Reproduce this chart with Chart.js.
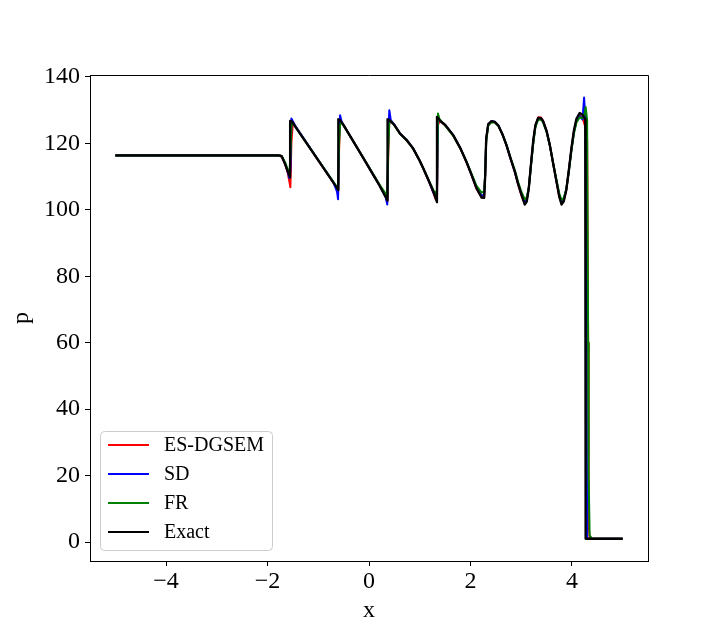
<!DOCTYPE html>
<html>
<head>
<meta charset="utf-8">
<script src="https://cdn.jsdelivr.net/npm/chart.js@4/dist/chart.umd.min.js"></script>
<style>
  html, body { margin: 0; padding: 0; background: #fff; }
  #wrap { width: 720px; height: 630px; }
</style>
</head>
<body>
<div id="wrap"><canvas id="myChart1" width="720" height="630"></canvas></div>
<script>
// series labels
var seriesNames = ['ES-DGSEM', 'SD', 'FR', 'Exact'];

// x grid of the numerical solutions
var xNum = [-5, -1.8, -1.72, -1.65, -1.6, -1.57, -1.55, -1.53, -1.5, -1.45,
    -1.0, -0.7, -0.63, -0.61, -0.59, -0.57, -0.54, -0.5, -0.1, 0.2,
    0.33, 0.36, 0.38, 0.40, 0.43, 0.5, 0.61, 0.75, 0.87, 1.0,
    1.07, 1.2, 1.27, 1.32, 1.34, 1.36, 1.39, 1.5, 1.66, 1.8,
    1.92, 2.02, 2.12, 2.22, 2.27, 2.29, 2.31, 2.35, 2.415, 2.48,
    2.55, 2.63, 2.71, 2.79, 2.875, 2.94, 3.007, 3.07, 3.11, 3.15,
    3.20, 3.24, 3.28, 3.335, 3.39, 3.43, 3.5, 3.565, 3.63, 3.70,
    3.75, 3.795, 3.84, 3.89, 3.94, 3.99, 4.04, 4.09, 4.155, 4.21,
    4.24, 4.27, 4.30, 4.32, 4.33, 4.35, 4.4, 5.0];

var pES = [116.4, 116.4, 116.0, 113.6, 111.0, 108.5, 106.8, 120.0, 126.5, 125.1,
    114.9, 108.1, 106.3, 104.5, 118.0, 126.5, 126.4, 125.4, 115.3, 107.6,
    104.0, 102.2, 117.0, 126.8, 126.9, 125.5, 122.9, 120.8, 118.4, 114.7,
    112.4, 107.8, 105.0, 103.0, 102.8, 125.5, 126.8, 125.5, 122.4, 118.5,
    114.4, 110.5, 106.3, 103.8, 104.0, 110.5, 121.0, 125.6, 126.6, 126.4,
    125.3, 122.7, 119.4, 115.4, 111.4, 107.6, 104.2, 102.0, 102.9, 106.6,
    114.7, 120.8, 125.3, 127.9, 127.8, 126.9, 123.8, 119.4, 113.9, 108.1,
    104.1, 102.0, 102.9, 106.1, 111.9, 118.2, 123.6, 126.9, 128.5, 127.5,
    126.2, 124.5, 121.0, 60.0, 5.0, 1.2, 1.0, 1.0];

var pSD = [116.4, 116.4, 116.1, 113.8, 111.3, 109.6, 112.0, 127.5, 126.6, 125.2,
    115.0, 108.2, 105.5, 103.2, 122.0, 128.5, 126.5, 125.5, 115.3, 107.6,
    103.8, 101.6, 122.0, 130.0, 127.0, 125.6, 123.0, 120.9, 118.5, 114.8,
    112.5, 107.9, 105.2, 103.5, 104.0, 127.2, 126.9, 125.6, 122.5, 118.6,
    114.5, 110.6, 106.6, 104.3, 104.6, 110.5, 121.0, 125.7, 126.7, 126.5,
    125.4, 122.8, 119.5, 115.5, 111.5, 107.8, 104.6, 102.5, 103.2, 106.5,
    114.6, 120.7, 125.2, 127.6, 127.5, 126.7, 123.7, 119.4, 113.9, 108.3,
    104.5, 102.5, 103.3, 106.2, 111.8, 118.1, 123.4, 126.7, 128.2, 127.2,
    133.8, 126.0, 1.4, 1.0, 1.0, 1.0, 1.0, 1.0];

var pFR = [116.4, 116.4, 116.2, 114.2, 112.0, 110.8, 116.0, 125.5, 126.2, 125.0,
    115.0, 108.4, 106.8, 106.0, 120.0, 125.8, 126.2, 125.3, 115.4, 107.8,
    104.8, 104.0, 119.0, 126.0, 126.8, 125.4, 122.9, 120.8, 118.4, 114.8,
    112.5, 108.2, 105.9, 104.8, 106.0, 129.0, 127.3, 125.4, 122.3, 118.5,
    114.6, 110.9, 107.2, 105.2, 105.6, 110.8, 120.5, 125.3, 126.4, 126.3,
    125.2, 122.8, 119.6, 115.7, 111.9, 108.4, 105.3, 103.2, 103.8, 106.6,
    114.2, 120.2, 124.8, 127.2, 127.1, 126.4, 123.5, 119.4, 114.1, 108.7,
    105.0, 103.0, 103.6, 106.3, 111.6, 117.7, 123.0, 126.3, 127.9, 127.6,
    128.2, 131.0, 127.0, 60.0, 20.0, 2.0, 1.0, 1.0];

// exact solution
var xEx = [-5, -1.76, -1.72, -1.66, -1.6, -1.555, -1.555, -1.52, -1.45, -1.0,
    -0.7, -0.605, -0.605, -0.57, -0.5, -0.1, 0.2, 0.365, 0.365, 0.4,
    0.5, 0.61, 0.75, 0.87, 1.0, 1.07, 1.2, 1.27, 1.34, 1.34,
    1.40, 1.5, 1.66, 1.8, 1.92, 2.02, 2.12, 2.22, 2.27, 2.29,
    2.31, 2.35, 2.415, 2.48, 2.55, 2.63, 2.71, 2.79, 2.875, 2.94,
    3.007, 3.07, 3.11, 3.15, 3.20, 3.24, 3.28, 3.335, 3.39, 3.43,
    3.5, 3.565, 3.63, 3.70, 3.75, 3.795, 3.84, 3.89, 3.94, 3.99,
    4.04, 4.09, 4.155, 4.21, 4.262, 4.27, 5.0];
var pEx = [116.4, 116.4, 116.1, 114.0, 111.5, 109.8, 126.8, 126.6, 125.0, 114.9,
    108.2, 106.0, 127.3, 127.0, 125.5, 115.3, 107.5, 102.8, 127.3, 127.0,
    125.6, 123.0, 120.9, 118.5, 114.8, 112.5, 108.0, 105.5, 102.3, 128.0,
    126.9, 125.6, 122.5, 118.6, 114.5, 110.6, 106.5, 103.7, 103.6, 110.0,
    121.5, 125.8, 126.7, 126.5, 125.4, 122.8, 119.5, 115.5, 111.5, 107.8,
    104.5, 101.6, 102.5, 106.5, 115.0, 121.2, 125.5, 127.7, 127.6, 126.8,
    123.8, 119.5, 114.0, 108.2, 104.0, 101.6, 102.6, 106.0, 112.0, 118.5,
    124.0, 127.5, 129.2, 128.6, 127.3, 1.0, 1.0];

// tick labels
var xTicks = [-4, -2, 0, 2, 4];
var yTicks = [0, 20, 40, 60, 80, 100, 120, 140];

var colors = ['#ff0000', '#0000ff', '#008000', '#000000'];
var serif = "'Liberation Serif', 'DejaVu Serif', serif";

function pairs(xs, ys) {
    return xs.map(function (x, i) { return { x: x, y: ys[i] }; });
}

// top and right spines
var framePlugin = {
    id: 'frame',
    afterDraw: function (chart) {
        var a = chart.chartArea, c = chart.ctx;
        c.save();
        c.strokeStyle = '#000';
        c.lineWidth = 1;
        c.beginPath();
        c.moveTo(a.left, a.top + 0.5);
        c.lineTo(a.right + 0.5, a.top + 0.5);
        c.lineTo(a.right + 0.5, a.bottom);
        c.stroke();
        c.restore();
    }
};

// legend in lower left corner of the axes
var legendPlugin = {
    id: 'boxLegend',
    afterDraw: function (chart) {
        var a = chart.chartArea, c = chart.ctx;
        var w = 172, h = 119;
        var x0 = a.left + 10, y0 = a.bottom - 11 - h;
        c.save();
        c.beginPath();
        c.roundRect(x0 + 0.5, y0 + 0.5, w, h, 4);
        c.fillStyle = 'rgba(255,255,255,0.8)';
        c.fill();
        c.strokeStyle = '#cccccc';
        c.lineWidth = 1;
        c.stroke();
        c.font = '20px ' + serif;
        c.textBaseline = 'middle';
        c.textAlign = 'left';
        seriesNames.forEach(function (name, i) {
            var yy = y0 + 14 + i * 29;
            c.strokeStyle = colors[i];
            c.lineWidth = 2;
            c.beginPath();
            c.moveTo(x0 + 8, yy);
            c.lineTo(x0 + 49, yy);
            c.stroke();
            c.fillStyle = '#000';
            c.fillText(name, x0 + 64, yy + 1);
        });
        c.restore();
    }
};

function minusFmt(v) {
    return v < 0 ? '\u2212' + Math.abs(v) : String(v);
}

var ctx = document.getElementById('myChart1');
var myChart = new Chart(ctx, {
    type: 'line',
    data: {
        datasets: [
            { label: seriesNames[0], data: pairs(xNum, pES), borderColor: colors[0], borderWidth: 2, order: 3 },
            { label: seriesNames[1], data: pairs(xNum, pSD), borderColor: colors[1], borderWidth: 2, order: 2 },
            { label: seriesNames[2], data: pairs(xNum, pFR), borderColor: colors[2], borderWidth: 2, order: 1 },
            { label: seriesNames[3], data: pairs(xEx, pEx), borderColor: colors[3], borderWidth: 2.3, order: 0 }
        ]
    },
    options: {
        responsive: false,
        animation: false,
        events: [],
        elements: {
            point: { radius: 0 },
            line: { tension: 0, fill: false, borderJoinStyle: 'round' }
        },
        layout: { padding: { top: 75, right: 72, left: 0, bottom: 0 } },
        plugins: {
            legend: { display: false },
            tooltip: { enabled: false }
        },
        scales: {
            x: {
                type: 'linear',
                min: -5.5,
                max: 5.5,
                afterFit: function (s) { s.height = 69; },
                afterBuildTicks: function (s) {
                    s.ticks = xTicks.map(function (v) { return { value: v }; });
                },
                grid: { drawOnChartArea: false, drawTicks: true, tickLength: 5, color: '#000' },
                border: { display: true, color: '#000', width: 1 },
                ticks: {
                    color: '#000',
                    padding: 1,
                    maxRotation: 0,
                    font: { family: serif, size: 24 },
                    callback: function (v) { return minusFmt(v); }
                },
                title: {
                    display: true,
                    text: 'x',
                    color: '#000',
                    font: { family: serif, size: 24 },
                    padding: { top: 0, bottom: 5 }
                }
            },
            y: {
                min: -5.7,
                max: 140.6,
                afterFit: function (s) { s.width = 90; },
                afterBuildTicks: function (s) {
                    s.ticks = yTicks.map(function (v) { return { value: v }; });
                },
                grid: { drawOnChartArea: false, drawTicks: true, tickLength: 5, color: '#000' },
                border: { display: true, color: '#000', width: 1 },
                ticks: {
                    color: '#000',
                    padding: 5,
                    font: { family: serif, size: 24 },
                    callback: function (v) { return minusFmt(v); }
                },
                title: {
                    display: true,
                    text: 'p',
                    color: '#000',
                    font: { family: serif, size: 24 },
                    padding: { top: 7, bottom: 0 }
                }
            }
        }
    },
    plugins: [framePlugin, legendPlugin]
});
</script>
</body>
</html>
